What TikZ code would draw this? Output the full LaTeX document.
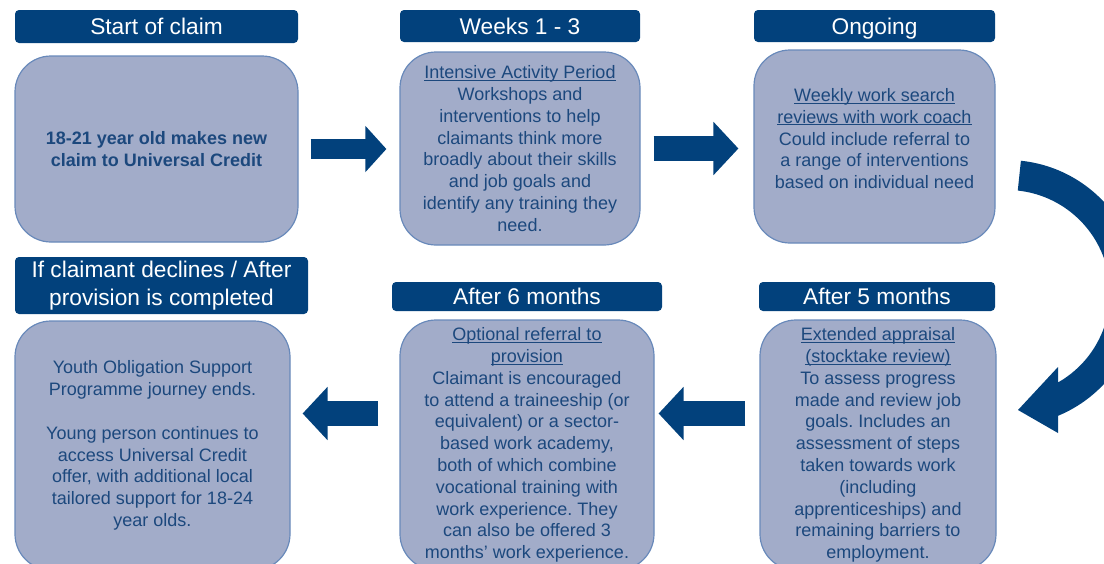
\documentclass[tikz,border=0pt]{standalone}
\usepackage{fontspec}
\setmainfont{Liberation Sans}
\usetikzlibrary{arrows.meta}
\definecolor{ucnavy}{RGB}{2,65,124}
\definecolor{boxfill}{RGB}{162,172,201}
\definecolor{boxline}{RGB}{104,137,186}
\definecolor{boxtext}{RGB}{28,72,125}
\newcommand{\ulword}[1]{\underline{\raisebox{0pt}[\height][0pt]{#1}}}
\frenchspacing
\tikzset{
  headbox/.style={rectangle,rounded corners=4pt,fill=ucnavy,text=white,align=center,inner sep=0pt,
    font=\fontsize{22.7}{27.5}\selectfont},
  headline/.style={headbox,text height=16.3pt,text depth=0pt},
  stagebox/.style={rectangle,rounded corners=36pt,fill=boxfill,draw=boxline,line width=1.2pt,
    text=boxtext,align=center,inner sep=0pt,font=\fontsize{18}{21.8}\selectfont},
  bigarrow/.style={ucnavy,line width=25pt,-{Triangle[length=25pt,width=52pt]}},
  smallarrow/.style={ucnavy,line width=20pt,-{Triangle[length=21pt,width=45pt]}}
}
\begin{document}
\begin{tikzpicture}[x=1pt,y=-1pt]
\useasboundingbox (0,0) rectangle (1104,563);
\clip (0,0) rectangle (1104,563);
\node[headline,minimum width=283pt,minimum height=33pt] (h1) at (156.5,26.5) {Start of claim};
\node[headline,minimum width=240pt,minimum height=32pt] (h2) at (520,26) {Weeks 1 - 3};
\node[headline,minimum width=241pt,minimum height=32pt] (h3) at (874.5,26) {Ongoing};
\node[headbox,minimum width=293pt,minimum height=57pt] (h4) at (161.5,285.5) {If claimant declines / After\\provision is completed};
\node[headline,minimum width=270pt,minimum height=29pt] (h5) at (527,296.5) {After 6 months};
\node[headline,minimum width=236pt,minimum height=29pt] (h6) at (877,296.5) {After 5 months};
\node[stagebox,minimum width=283pt,minimum height=186pt] (b1) at (156.5,149) {\bfseries 18-21 year old makes new\\\bfseries claim to Universal Credit};
\node[stagebox,minimum width=240pt,minimum height=193pt] (b2) at (520,148.5) {\ulword{Intensive Activity Period}\\Workshops and\\interventions to help\\claimants think more\\broadly about their skills\\and job goals and\\identify any training they\\need.};
\node[stagebox,minimum width=241pt,minimum height=193pt,text depth=16pt] (b3) at (874.5,146.5) {\ulword{Weekly work search}\\\ulword{reviews with work coach}\\Could include referral to\\a range of interventions\\based on individual need};
\node[stagebox,minimum width=275pt,minimum height=249pt] (b4) at (152.5,445.5) {Youth Obligation Support\\Programme journey ends.\\[21.8pt]Young person continues to\\access Universal Credit\\offer, with additional local\\tailored support for 18-24\\year olds.};
\node[stagebox,minimum width=254pt,minimum height=250pt] (b5) at (527,445) {\ulword{Optional referral to}\\\ulword{provision}\\Claimant is encouraged\\to attend a traineeship (or\\equivalent) or a sector-\\based work academy,\\both of which combine\\vocational training with\\work experience. They\\can also be offered 3\\months’ work experience.};
\node[stagebox,minimum width=236pt,minimum height=250pt] (b6) at (878,445) {\ulword{Extended appraisal}\\\ulword{(stocktake review)}\\To assess progress\\made and review job\\goals. Includes an\\assessment of steps\\taken towards work\\(including\\apprenticeships) and\\remaining barriers to\\employment.};
\draw[smallarrow,shorten <=12pt,shorten >=13pt] (b1.east) -- (b1.east -| b2.west);
\draw[bigarrow,shorten <=13pt,shorten >=15pt] (b2.east) -- (b2.east -| b3.west);
\coordinate (m6) at ([yshift=31.5pt]b6.west);
\coordinate (m5) at ([yshift=31.5pt]b5.west);
\draw[bigarrow,shorten <=14pt,shorten >=4pt] (m6) -- (m6 -| b5.east);
\draw[bigarrow,shorten <=21pt,shorten >=12pt] (m5) -- (m5 -| b4.east);
\coordinate (bend) at (1007,293);
\fill[ucnavy] ([shift={(-84:133)}]bend) arc[start angle=-84,end angle=67.4,radius=133]
  -- (1058,433) -- (1018,410) -- (1058,367)
  -- ([shift={(60.3:103)}]bend) arc[start angle=60.3,end angle=-84,radius=103] -- cycle;
\end{tikzpicture}
\end{document}
